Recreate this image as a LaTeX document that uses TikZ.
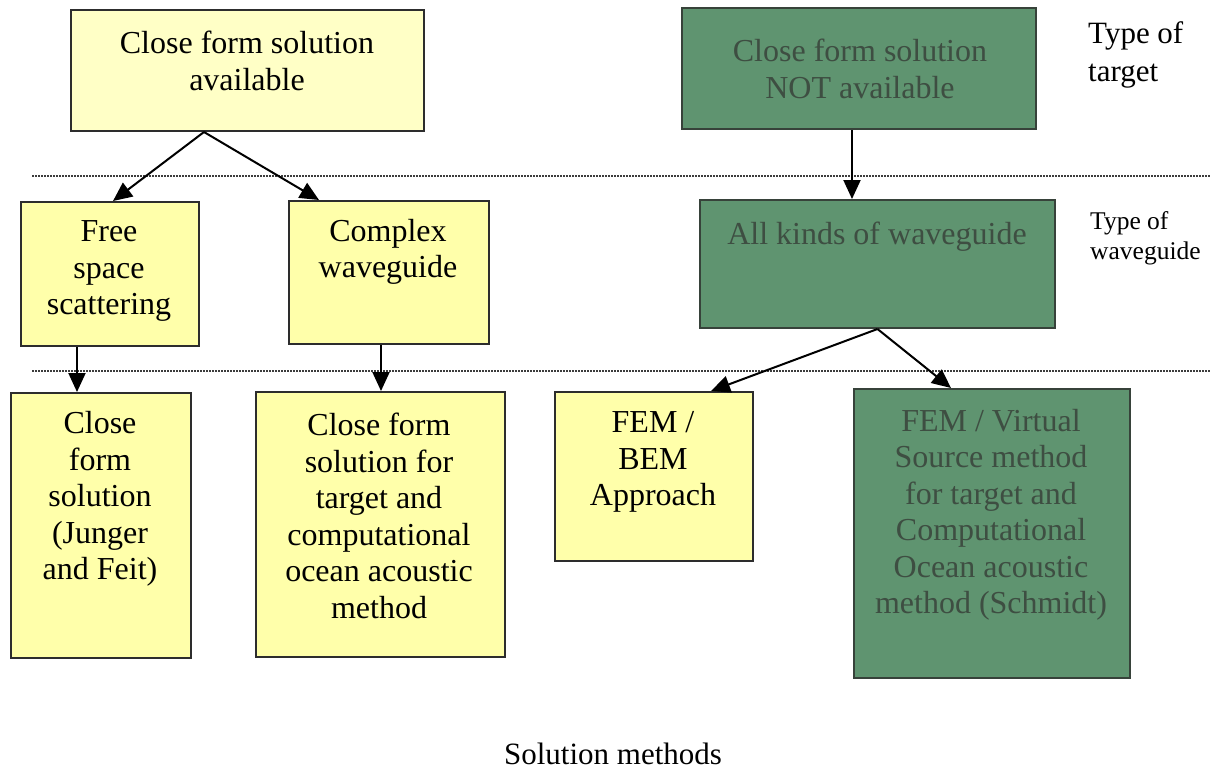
\documentclass[tikz,border=0pt]{standalone}
\usepackage{fontspec}
\setmainfont{Liberation Serif}
\usetikzlibrary{arrows.meta,calc}
\definecolor{ylw}{RGB}{255,255,170}
\definecolor{ylwtop}{RGB}{255,255,198}
\definecolor{grn}{RGB}{95,148,112}
\definecolor{grntxt}{RGB}{62,78,66}
\definecolor{bord}{RGB}{45,45,45}
\definecolor{dotc}{RGB}{60,60,60}
\begin{document}
\begin{tikzpicture}[x=1pt,y=-1pt,
  ybox/.style={draw=bord, line width=2pt, fill=ylw, inner sep=0pt, anchor=north west},
  gbox/.style={draw=bord!80!grn, line width=2pt, fill=grn, inner sep=0pt, anchor=north west},
  btxt/.style={align=center, inner sep=0pt, font=\fontsize{32}{36.5}\selectfont, text=black},
  gtxt/.style={btxt, text=grntxt},
  side/.style={align=left, inner sep=0pt, anchor=west},
  arr/.style={-{Triangle[length=19pt,width=17pt]}, line width=2pt, black},
  dotline/.style={draw=dotc, line width=1.6pt, dash pattern=on 1.5pt off 1.5pt}
]
\useasboundingbox (0,0) rectangle (1210,769);
\fill[white] (0,0) rectangle (1210,769);

% separators
\draw[dotline] (32,176) -- (1210,176);
\draw[dotline] (32,371) -- (1210,371);

% boxes
\node[ybox, fill=ylwtop, minimum width=353pt, minimum height=121pt] (tl) at (70,9) {};
\node[gbox, minimum width=354pt, minimum height=121pt] (gtop) at (681,7) {};
\node[ybox, minimum width=178pt, minimum height=144pt] (free) at (20,201) {};
\node[ybox, minimum width=200pt, minimum height=143pt] (cplx) at (288,200) {};
\node[gbox, minimum width=355pt, minimum height=128pt] (gmid) at (699,199) {};
\node[ybox, minimum width=180pt, minimum height=265pt] (jung) at (10,392) {};
\node[ybox, minimum width=249pt, minimum height=265pt] (sec) at (255,391) {};
\node[ybox, minimum width=198pt, minimum height=169pt] (fem) at (554,391) {};
\node[gbox, minimum width=276pt, minimum height=289pt] (gbot) at (853,388) {};

% texts
\node[btxt] (tlt) at (247,61) {Close form solution\\available};
\node[gtxt] (gtopt) at (860,69) {Close form solution\\NOT available};
\node[btxt] (freet) at (109,271) {Free\\space\\scattering};
\node[btxt] (cplxt) at (388,252) {Complex\\waveguide};
\node[gtxt] (gmidt) at (877,237) {All kinds of waveguide};
\node[btxt] (jungt) at (100,499) {Close\\form\\solution\\(Junger\\and Feit)};
\node[btxt] (sect) at (379,516) {Close form\\solution for\\target and\\computational\\ocean acoustic\\method};
\node[btxt] (femt) at (653,462) {FEM /\\BEM\\Approach};
\node[gtxt] (gbott) at (991,515) {FEM / Virtual\\Source method\\for target and\\Computational\\Ocean acoustic\\method (Schmidt)};

\node[side, font=\fontsize{31}{38}\selectfont] (tt) at (1088,55) {Type of\\target};
\node[side, font=\fontsize{25.5}{30}\selectfont] (tw) at (1090,238) {Type of\\waveguide};
\node[inner sep=0pt, font=\fontsize{31}{36}\selectfont] (sm) at (613,754) {Solution methods};

% connectors
\draw[arr] ([xshift=-43.5pt]tl.south) -- ([xshift=3pt]free.north);
\draw[arr] ([xshift=-43.5pt]tl.south) -- ([xshift=-70pt]cplx.north);
\draw[arr] ([xshift=-33pt]free.south) -- ([xshift=-24pt]jung.north);
\draw[arr] ([xshift=-8pt]cplx.south) -- ([xshift=0.5pt]sec.north);
\draw[arr] ([xshift=-7pt]gtop.south) -- ([xshift=-25.5pt]gmid.north);
\draw[arr] (gmid.south) -- ([xshift=57pt]fem.north);
\draw[arr] (gmid.south) -- ([xshift=-41pt]gbot.north);
\end{tikzpicture}
\end{document}
